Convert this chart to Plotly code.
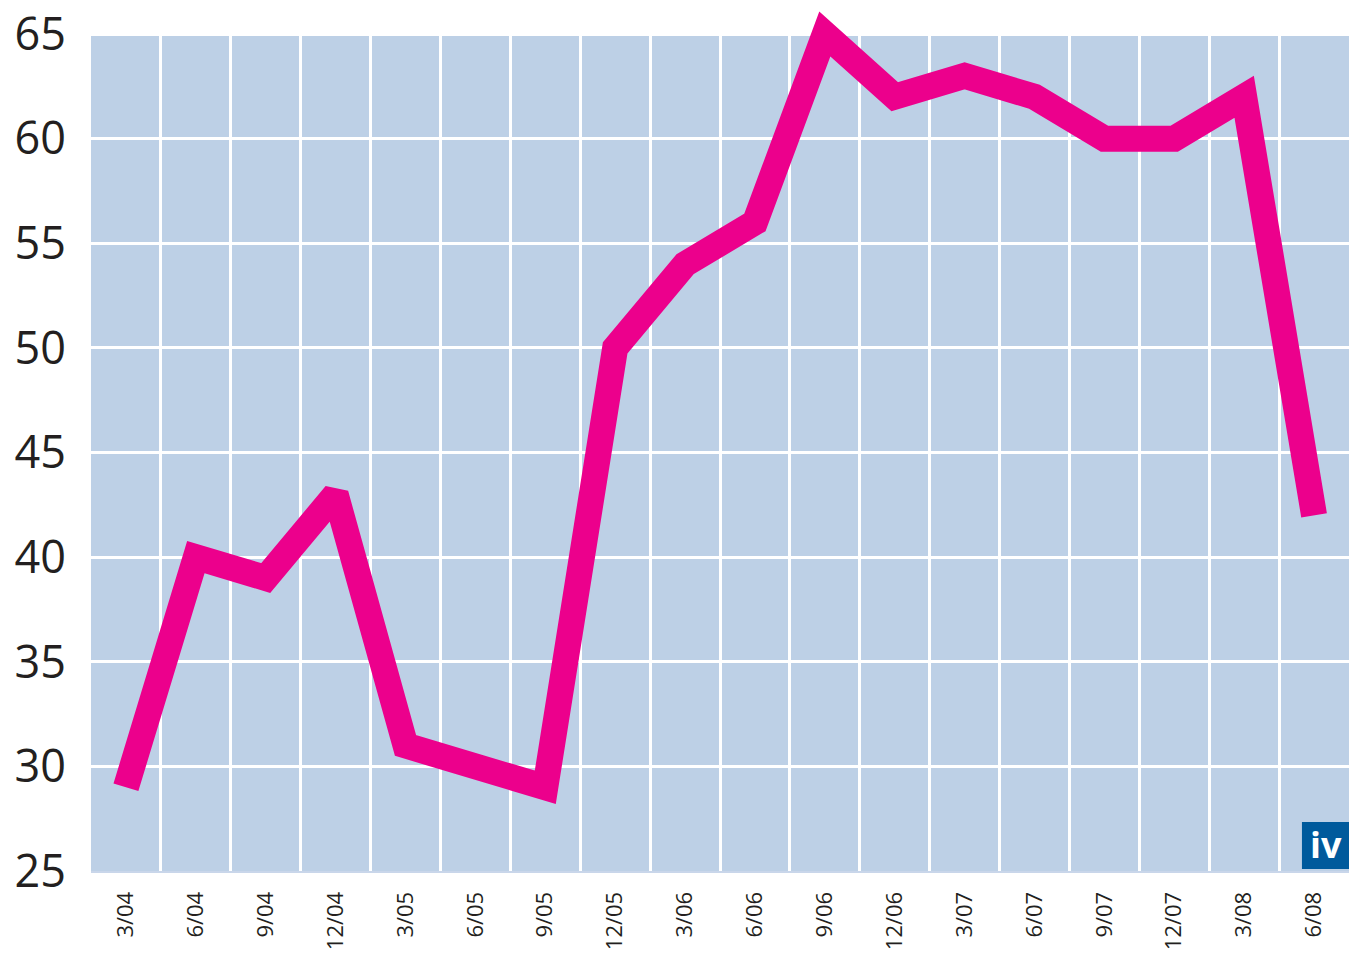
import plotly.graph_objects as go

categories = ["3/04", "6/04", "9/04", "12/04", "3/05", "6/05", "9/05", "12/05", "3/06",
              "6/06", "9/06", "12/06", "3/07", "6/07", "9/07", "12/07", "3/08", "6/08"]
values = [29.0, 40.0, 39.0, 43.0, 31.0, 30.0, 29.0, 50.0, 54.0,
          56.0, 65.0, 62.0, 63.0, 62.0, 60.0, 60.0, 62.0, 42.0]
y_ticks = [25, 30, 35, 40, 45, 50, 55, 60, 65]

idx = list(range(len(categories)))

fig = go.Figure()
fig.add_trace(go.Scatter(
    x=idx, y=values, mode="lines",
    line=dict(color="#EC008C", width=26),
    hoverinfo="skip", showlegend=False,
))

# blue plotting background (only between 25 and 65)
fig.add_shape(type="rect", xref="x", yref="y", x0=-0.5, x1=len(categories) - 0.5,
              y0=y_ticks[0], y1=y_ticks[-1], fillcolor="#BDD0E6", line=dict(width=0),
              layer="below")

# "iv" logo
fig.add_shape(type="rect", xref="paper", yref="paper", x0=0.9626, x1=1.0,
              y0=0.0023, y1=0.0563, fillcolor="#005A9C", line=dict(width=0), layer="above")
fig.add_annotation(text="<b>iv</b>", xref="paper", yref="paper", x=0.9821, y=0.0299,
                   showarrow=False, font=dict(family="Open Sans", size=36, color="white"),
                   xanchor="center", yanchor="middle")

fig.update_layout(
    width=1349, height=953,
    margin=dict(l=91, r=0, t=0, b=82),
    paper_bgcolor="white", plot_bgcolor="white",
    font=dict(family="Open Sans", color="#231F20"),
    showlegend=False,
)
fig.update_xaxes(
    automargin=False,
    range=[-0.5, len(categories) - 0.5],
    tickmode="array", tickvals=idx, ticktext=categories,
    tickangle=-90, tickfont=dict(size=22, color="#231F20"),
    showgrid=False, zeroline=False,
    showline=True, linecolor="#C9D6EA", linewidth=2,
    ticks="", ticklabelstandoff=10, ticklabeloverflow="allow",
    minor=dict(tickmode="array", tickvals=[i - 0.5 for i in range(len(categories) + 1)],
               showgrid=True, gridcolor="white", gridwidth=3, ticks=""),
    fixedrange=True,
)
fig.update_yaxes(
    automargin=False,
    range=[25, 66.625],
    tickmode="array", tickvals=y_ticks, ticktext=[str(v) for v in y_ticks],
    tickfont=dict(size=45, color="#231F20"),
    showgrid=True, gridcolor="white", gridwidth=3,
    zeroline=False, showline=False, ticks="", ticklabelstandoff=24,
    ticklabeloverflow="allow",
    fixedrange=True,
)

post = (
    "document.documentElement.style.margin='0';"
    "document.body.style.margin='0';"
    "document.body.style.overflow='hidden';"
    "document.body.style.fontSize='0';"
    "document.body.style.lineHeight='0';"
)
fig.write_html("out.html", config=dict(displayModeBar=False), post_script=post)
